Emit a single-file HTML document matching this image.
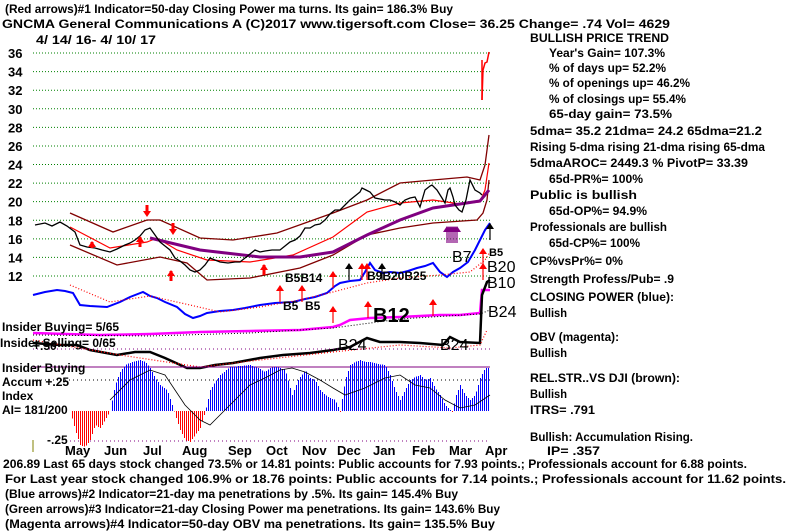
<!DOCTYPE html>
<html><head><meta charset="utf-8"><style>
body{margin:0;background:#fff;}
svg{display:block;font-family:"Liberation Sans",Arial,sans-serif;font-weight:bold;font-size:12px;}
</style></head><body>
<svg id="c" width="800" height="532" viewBox="0 0 800 532" xmlns="http://www.w3.org/2000/svg">
<rect width="800" height="532" fill="#fff"/>
<g id="grid" stroke="#008000" stroke-dasharray="1,2" stroke-width="1"></g>
<g fill="#000">
<text x="5" y="13" textLength="448" lengthAdjust="spacingAndGlyphs">(Red arrows)#1 Indicator=50-day Closing Power ma turns. Its gain= 186.3% Buy</text>
<text x="2" y="28" textLength="668" lengthAdjust="spacingAndGlyphs">GNCMA   General Communications A   (C)2017 www.tigersoft.com     Close=   36.25   Change= .74  Vol= 4629</text>
<text x="36" y="44" textLength="120" lengthAdjust="spacingAndGlyphs">4/ 14/ 16- 4/ 10/ 17</text>
</g>
<g id="ylab" fill="#000" font-size="13"></g>
<g fill="none">
<polyline stroke="#800000" stroke-width="1.3" points="70,213 113,232 147,220 160,220 200,238 233,240 277,233 333,213 367,200 400,183 433,180 467,177 480,180 485,165 489,135"/>
<polyline stroke="#800000" stroke-width="1.3" points="70,245 117,265 160,257 187,263 207,280 250,278 300,268 333,255 367,235 400,228 433,223 477,220 483,213 487,200 489,180"/>
<polyline stroke="#ff0000" stroke-width="1.2" points="70,227 110,248 147,242 157,238 177,250 207,260 250,262 293,255 333,237 367,212 400,203 433,200 460,204 480,202 485,190 489,163"/>
<polyline stroke="#800080" stroke-width="3" points="150,238 200,250 260,257 300,257 333,252 367,235 400,220 433,208 460,204 480,201 489,190"/>
<polyline stroke="#000" stroke-width="1.3" points="35,225 45,223 52,226 60,222 67,226 75,232 80,245 87,247 95,248 102,250 110,252 117,249 125,245 130,243 135,240 140,236 145,230 150,228 155,235 160,242 165,246 170,250 175,258 180,261 185,265 190,270 195,272 200,270 205,265 210,258 215,260 220,262 228,263 235,262 240,262 245,258 250,254 255,250 260,252 265,251 272,250 280,250 285,246 290,242 295,240 300,236 305,228 310,228 315,225 320,224 325,220 330,214 335,210 340,210 345,205 350,200 355,196 360,192 362,188 366,190 370,192 375,198 380,199 385,200 390,200 395,202 400,205 405,200 410,198 415,197 420,207 425,190 430,186 432,185 437,190 442,198 445,203 448,190 450,188 453,197 455,205 459,210 462,212 466,200 470,180 475,190 480,193 482,195"/>
<polyline stroke="#ff0000" stroke-width="1.5" points="482,100 483,70 485,63 487,62 489,52"/>
<line x1="482" y1="60" x2="482" y2="100" stroke="#ff0000" stroke-width="1.5"/>
<polyline stroke="#0000ff" stroke-width="2" points="33,295 45,292 57,290 65,291 73,293 80,305 90,306 107,307 120,302 130,297 143,292 150,296 157,298 165,302 177,307 185,314 193,318 200,316 207,313 220,311 233,310 245,308 260,305 275,303 293,302 305,299 315,297 327,293 335,286 340,283 350,281 360,280 365,272 370,263 375,270 383,273 390,272 400,273 408,271 417,268 425,266 433,263 440,272 447,277 453,272 460,268 468,262 475,250 480,240 485,230 490,223"/>
<polyline stroke="#ff0000" stroke-dasharray="1,2" stroke-width="1.2" points="70,285 110,302 150,296 190,305 220,312 260,307 300,300 333,292 367,283 400,278 440,275 470,272 485,260 490,252"/>
<polyline stroke="#ff00ff" stroke-width="2.5" points="33,333 100,335 150,334 200,332 250,331 300,330 333,327 340,325 350,320 370,318 400,317 440,315 460,315 480,313 482,290 490,290"/>
<polyline stroke="#000" stroke-dasharray="1,2" stroke-width="1" points="33,335 150,336 250,333 333,328 400,319 480,314 490,310"/>
<polyline stroke="#000" stroke-width="2.5" points="33,343 60,345 77,345 90,350 117,355 135,352 150,352 165,358 187,368 200,368 215,365 233,363 260,358 283,355 310,353 333,350 350,347 367,338 380,342 400,342 420,343 443,345 450,337 460,342 480,343 482,295 487,282 490,280"/>
<polyline stroke="#ff0000" stroke-dasharray="1,2" stroke-width="1.2" points="33,340 120,355 200,367 260,360 333,352 400,345 450,348 480,345 487,330"/>
<line x1="33" y1="349" x2="490" y2="349" stroke="#800080" stroke-dasharray="1,3"/>
</g>
<g id="arr"></g>
<g fill="#000">
<text x="285" y="282" font-size="12">B5B14</text>
<text x="367" y="280" font-size="12">B9B20B25</text>
<text x="283" y="310" font-size="12">B5</text><text x="305" y="310" font-size="12">B5</text>
<text x="373" y="322" font-size="20">B12</text>
<text x="452" y="262" font-size="16" font-weight="normal">B7</text>
<text x="487" y="272" font-size="16" font-weight="normal">B20</text>
<text x="487" y="288" font-size="16" font-weight="normal">B10</text>
<text x="488" y="317" font-size="16" font-weight="normal">B24</text>
<text x="440" y="350" font-size="16" font-weight="normal">B24</text>
<text x="338" y="350" font-size="16" font-weight="normal">B24</text>
<text x="489" y="256" font-size="11">B5</text>
</g>
<line x1="33" y1="367" x2="490" y2="367" stroke="#800080" stroke-width="1"/>
<line x1="33" y1="380" x2="490" y2="380" stroke="#000" stroke-dasharray="1,3"/>
<line x1="70" y1="441" x2="490" y2="441" stroke="#800080" stroke-dasharray="1,3"/>
<g id="hist" shape-rendering="crispEdges"></g>
<polyline fill="none" stroke="#000" stroke-width="0.8" points="110,400 130,380 150,370 165,375 175,390 185,405 200,420 210,425 220,415 235,400 250,385 265,378 280,370 292,368 305,372 320,380 333,388 345,395 365,388 385,378 400,375 415,385 430,388 445,400 460,408 475,405 490,395"/>
<g fill="#000">
<text x="2" y="331">Insider Buying= 5/65</text>
<text x="0" y="347">Insider Selling= 0/65</text>
<text x="33" y="350">+.50</text>
<text x="2" y="372">Insider Buying</text>
<text x="2" y="386">Accum   +.25</text>
<text x="2" y="400">Index</text>
<text x="2" y="414">AI= 181/200</text>
<text x="47" y="444">-.25</text>
</g>
<line x1="33" y1="440" x2="33" y2="452" stroke="#808000" stroke-width="1"/>
<g fill="#000" font-size="13">
<text x="65" y="455">May</text><text x="104" y="455">Jun</text><text x="143" y="455">Jul</text><text x="182" y="455">Aug</text><text x="228" y="455">Sep</text><text x="266" y="455">Oct</text><text x="302" y="455">Nov</text><text x="337" y="455">Dec</text><text x="373" y="455">Jan</text><text x="412" y="455">Feb</text><text x="449" y="455">Mar</text><text x="485" y="455">Apr</text>
</g>
<g fill="#000">
<text x="3" y="468" textLength="744" lengthAdjust="spacingAndGlyphs">206.89 Last 65 days stock changed  73.5% or  14.81 points:  Public accounts for  7.93 points.;  Professionals account for  6.88 points.</text>
<text x="5" y="483" textLength="781" lengthAdjust="spacingAndGlyphs">For Last year stock changed  106.9% or  18.76 points:  Public accounts for  7.14 points.;  Professionals account for  11.62 points.</text>
<text x="5" y="498" textLength="453" lengthAdjust="spacingAndGlyphs">(Blue arrows)#2 Indicator=21-day ma penetrations by .5%. Its gain= 145.4% Buy</text>
<text x="5" y="513" textLength="495" lengthAdjust="spacingAndGlyphs">(Green arrows)#3 Indicator=21-day Closing Power ma penetrations. Its gain= 143.6% Buy</text>
<text x="5" y="528" textLength="490" lengthAdjust="spacingAndGlyphs">(Magenta arrows)#4 Indicator=50-day OBV ma penetrations. Its gain= 135.5% Buy</text>
</g>
<g fill="#000">
<text x="530" y="42" textLength="139" lengthAdjust="spacingAndGlyphs">BULLISH PRICE TREND</text>
<text x="549" y="57" textLength="116" lengthAdjust="spacingAndGlyphs">Year's Gain= 107.3%</text>
<text x="549" y="72" textLength="117" lengthAdjust="spacingAndGlyphs">% of days up= 52.2%</text>
<text x="549" y="87" textLength="141" lengthAdjust="spacingAndGlyphs">% of openings up= 46.2%</text>
<text x="549" y="103" textLength="137" lengthAdjust="spacingAndGlyphs">% of closings up= 55.4%</text>
<text x="549" y="118" textLength="123" lengthAdjust="spacingAndGlyphs">65-day gain= 73.5%</text>
<text x="530" y="135" textLength="232" lengthAdjust="spacingAndGlyphs">5dma= 35.2 21dma= 24.2 65dma=21.2</text>
<text x="530" y="151" textLength="235" lengthAdjust="spacingAndGlyphs">Rising 5-dma rising 21-dma rising 65-dma</text>
<text x="530" y="167" textLength="218" lengthAdjust="spacingAndGlyphs">5dmaAROC= 2449.3 %  PivotP= 33.39</text>
<text x="549" y="183" textLength="94" lengthAdjust="spacingAndGlyphs">65d-PR%= 100%</text>
<text x="530" y="199" textLength="107" lengthAdjust="spacingAndGlyphs">Public is bullish</text>
<text x="549" y="215" textLength="98" lengthAdjust="spacingAndGlyphs">65d-OP%= 94.9%</text>
<text x="530" y="231" textLength="137" lengthAdjust="spacingAndGlyphs">Professionals are bullish</text>
<text x="549" y="247" textLength="91" lengthAdjust="spacingAndGlyphs">65d-CP%= 100%</text>
<text x="530" y="265" textLength="93" lengthAdjust="spacingAndGlyphs">CP%vsPr%=  0%</text>
<text x="530" y="283" textLength="144" lengthAdjust="spacingAndGlyphs">Strength Profess/Pub= .9</text>
<text x="530" y="301" textLength="144" lengthAdjust="spacingAndGlyphs">CLOSING POWER (blue):</text>
<text x="530" y="317" textLength="37" lengthAdjust="spacingAndGlyphs">Bullish</text>
<text x="530" y="341" textLength="89" lengthAdjust="spacingAndGlyphs">OBV (magenta):</text>
<text x="530" y="357" textLength="37" lengthAdjust="spacingAndGlyphs">Bullish</text>
<text x="530" y="382" textLength="150" lengthAdjust="spacingAndGlyphs">REL.STR..VS DJI (brown):</text>
<text x="530" y="398" textLength="37" lengthAdjust="spacingAndGlyphs">Bullish</text>
<text x="530" y="414" textLength="65" lengthAdjust="spacingAndGlyphs">ITRS= .791</text>
<text x="530" y="441" textLength="163" lengthAdjust="spacingAndGlyphs">Bullish: Accumulation Rising.</text>
<text x="547" y="455" textLength="53" lengthAdjust="spacingAndGlyphs">IP=  .357</text>
</g>
</svg>
<script>
var NS="http://www.w3.org/2000/svg";
function el(p,t,a){var e=document.createElementNS(NS,t);for(var k in a)e.setAttribute(k,a[k]);p.appendChild(e);return e;}
var g=document.getElementById('grid'),yl=document.getElementById('ylab');
for(var p=12;p<=36;p+=2){var y=276-(p-12)*9.29;el(g,'line',{x1:33,x2:490,y1:y,y2:y});var t=el(yl,'text',{x:8,y:y+5});t.textContent=p;}
var h=document.getElementById('hist');
var k=[[70,411],[75,430],[80,445],[85,447],[90,440],[95,425],[100,428],[105,420],[110,411],[115,385],[120,372],[125,365],[132,362],[140,360],[145,362],[150,368],[155,378],[160,385],[167,390],[172,405],[175,415],[180,430],[185,440],[190,442],[195,435],[200,428],[205,412],[210,390],[215,382],[220,375],[230,367],[240,366],[250,365],[258,368],[265,372],[270,368],[275,367],[280,368],[285,370],[292,395],[298,380],[305,370],[310,378],[315,380],[320,390],[325,395],[330,398],[335,400],[340,412],[345,380],[350,365],[355,362],[360,360],[365,362],[370,362],[378,364],[385,365],[390,375],[395,390],[400,400],[405,390],[410,380],[415,377],[420,375],[425,380],[430,378],[435,388],[440,395],[445,405],[452,412],[456,395],[460,385],[465,395],[470,400],[475,395],[480,378],[485,368],[489,368]];
function val(x){for(var i=0;i<k.length-1;i++){if(x>=k[i][0]&&x<=k[i+1][0]){var f=(x-k[i][0])/(k[i+1][0]-k[i][0]);return k[i][1]+f*(k[i+1][1]-k[i][1]);}}return 411;}
for(var x=70;x<=489;x+=2){var v=val(x);el(h,'rect',{x:x,y:Math.min(411,v),width:1,height:Math.abs(411-v),fill:v<411?'#0000ff':'#ff0000'});}
var a=document.getElementById('arr');
function up(x,y,c,len){el(a,'line',{x1:x,x2:x,y1:y,y2:y-len,stroke:c,'stroke-width':len>10?1.2:3});el(a,'polygon',{points:(x-4)+','+(y-len+5)+' '+x+','+(y-len-1)+' '+(x+4)+','+(y-len+5),fill:c});}
function dn(x,y,c){el(a,'line',{x1:x,x2:x,y1:y-10,y2:y,stroke:c,'stroke-width':3});el(a,'polygon',{points:(x-4)+','+(y-4)+' '+x+','+(y+2)+' '+(x+4)+','+(y-4),fill:c});}
up(140,247,'#ff0000',10);up(171,281,'#ff0000',10);up(264,275,'#ff0000',10);up(92,248,'#ff0000',6);
dn(147,215,'#ff0000');dn(173,233,'#ff0000');
[[333,288],[362,280],[367,280],[280,302],[302,302],[333,323],[368,318],[433,316],[483,280],[483,265]].forEach(function(q){up(q[0],q[1],'#ff0000',16);});
[[349,280],[382,280],[490,240]].forEach(function(q){up(q[0],q[1],'#000',16);});
for(var i=0;i<6;i++)up(447+i*2,243,'#800080',16);
</script>
</body></html>
